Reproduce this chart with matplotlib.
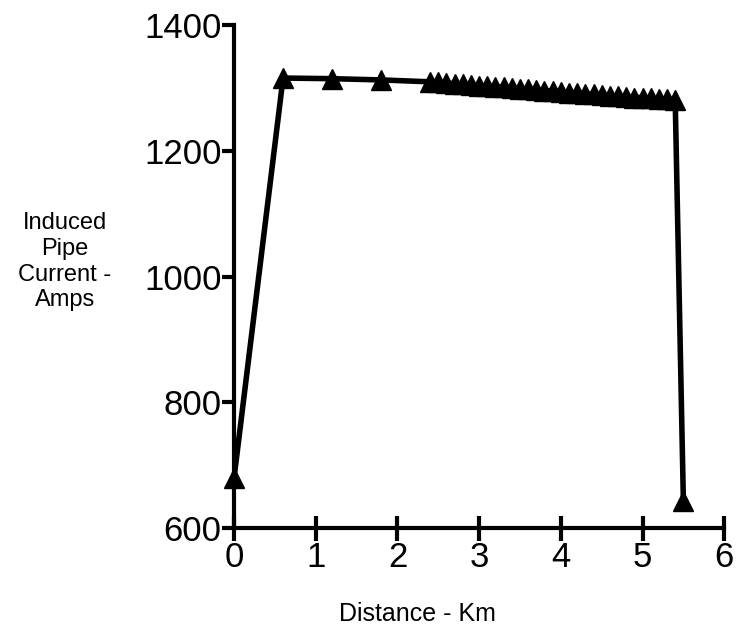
import matplotlib.pyplot as plt
import numpy as np

# Расстояние вдоль трубопровода, км
distance = [0.0, 0.6, 1.2, 1.8,
            2.4, 2.5, 2.6, 2.7, 2.8, 2.9, 3.0, 3.1, 3.2, 3.3, 3.4,
            3.5, 3.6, 3.7, 3.8, 3.9, 4.0, 4.1, 4.2, 4.3, 4.4, 4.5,
            4.6, 4.7, 4.8, 4.9, 5.0, 5.1, 5.2, 5.3, 5.4,
            5.5]

# Наведённый ток в трубе, А
current = [680, 1316, 1315, 1313,
           1310, 1309, 1308, 1307, 1306, 1305, 1304, 1303, 1302, 1301, 1300,
           1299, 1298, 1297, 1296, 1295, 1294, 1293, 1292, 1291, 1290, 1289,
           1288, 1287, 1286, 1285, 1285, 1284, 1283, 1282, 1281,
           643]

x_ticks = [0, 1, 2, 3, 4, 5, 6]
y_ticks = [600, 800, 1000, 1200, 1400]

plt.rcParams['font.family'] = ['Liberation Sans', 'DejaVu Sans']

fig = plt.figure(figsize=(7.36, 6.31), dpi=100)
ax = fig.add_axes([0.318, 0.163, 0.666, 0.797])

ax.plot(distance, current, color='black', linewidth=4, marker='^',
        markersize=14, markerfacecolor='black', markeredgecolor='black',
        clip_on=False, zorder=3)

ax.set_xlim(0, 6)
ax.set_ylim(600, 1400)
ax.set_xticks(x_ticks)
ax.set_yticks(y_ticks)

# Оставляем только левую и нижнюю оси
ax.spines['top'].set_visible(False)
ax.spines['right'].set_visible(False)
ax.spines['left'].set_linewidth(3)
ax.spines['bottom'].set_linewidth(3)

ax.tick_params(axis='x', direction='inout', length=18, width=3,
               labelsize=25, pad=0)
ax.tick_params(axis='y', direction='out', length=9, width=3,
               labelsize=25, pad=0)

fig.text(0.567, 0.027, 'Distance - Km', ha='center', va='center', fontsize=18)
fig.text(0.088, 0.585, 'Induced\nPipe\nCurrent -\nAmps', ha='center',
         va='center', fontsize=17, linespacing=1.22)

plt.savefig('out.png', dpi=100)
